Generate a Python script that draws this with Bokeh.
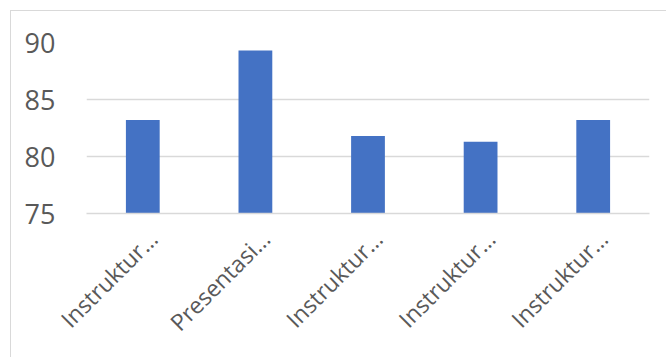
import math
from bokeh.plotting import figure
from bokeh.models import Range1d, FixedTicker, ColumnDataSource, LinearAxis
from bokeh.embed import file_html
from bokeh.resources import INLINE

categories = ["Instruktur…", "Presentasi…", "Instruktur…", "Instruktur…", "Instruktur…"]
values = [83.2, 89.3, 81.8, 81.3, 83.2]
y_ticks = [75, 80, 85, 90]

n = len(categories)
xs = [i + 0.5 for i in range(n)]
src = ColumnDataSource(data=dict(x=xs, val=values))

label_shift = 0.09  # small rightward nudge of the slanted category labels (in category units)

p = figure(
    x_range=Range1d(0, n),
    y_range=Range1d(75, 90),
    width=656, height=347,
    output_backend="svg", toolbar_location=None,
    min_border_left=75, min_border_right=18, min_border_top=31, min_border_bottom=145,
    margin=(10, 0, 0, 10),
    styles={"border-top": "1px solid #d9d9d9", "border-left": "1px solid #d9d9d9"},
)
p.extra_x_ranges = {"lab": Range1d(-label_shift, n - label_shift)}
p.vbar(x="x", top="val", bottom=75, width=0.3, source=src, fill_color="#4472C4", line_color=None)

p.outline_line_color = None
p.background_fill_color = "white"
p.border_fill_color = "white"

p.xaxis.visible = False
p.xgrid.grid_line_color = None
p.ygrid.grid_line_color = "#d9d9d9"
p.ygrid.grid_line_width = 1.5
p.yaxis.ticker = FixedTicker(ticks=y_ticks)
p.yaxis.axis_line_color = None
p.yaxis.major_tick_line_color = None
p.yaxis.minor_tick_line_color = None
p.yaxis.major_label_text_font = "Open Sans"
p.yaxis.major_label_text_font_size = "27px"
p.yaxis.major_label_text_color = "#595959"
p.yaxis.major_label_standoff = 25

xa = LinearAxis(
    x_range_name="lab",
    ticker=FixedTicker(ticks=xs),
    major_label_overrides={x: c for x, c in zip(xs, categories)},
)
xa.axis_line_color = "#d9d9d9"
xa.axis_line_width = 1.5
xa.major_tick_line_color = None
xa.minor_tick_line_color = None
xa.major_label_orientation = math.pi / 4
xa.major_label_text_font = "Open Sans"
xa.major_label_text_font_size = "23px"
xa.major_label_text_color = "#595959"
xa.major_label_standoff = 15
p.add_layout(xa, "below")

open("out.html", "w").write(file_html(p, INLINE))
